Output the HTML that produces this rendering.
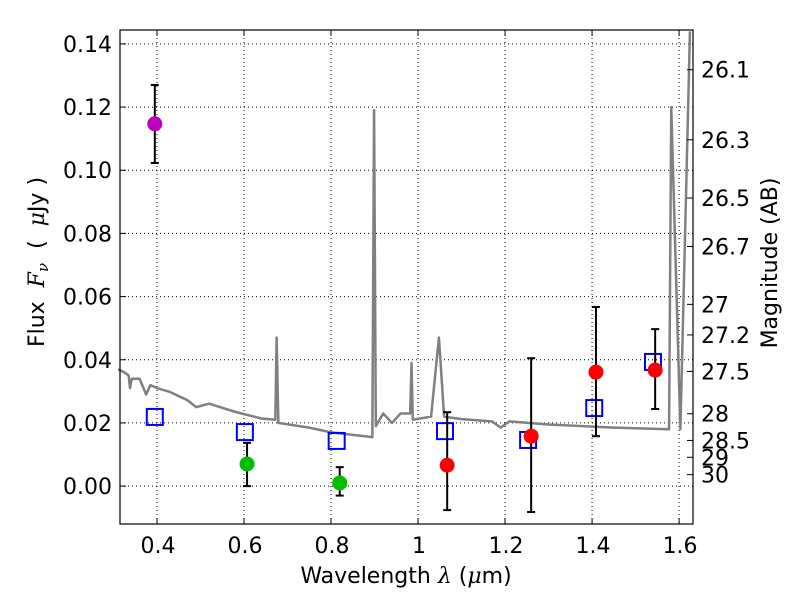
<!DOCTYPE html>
<html><head><meta charset="utf-8"><style>
body{margin:0;background:#fff;}
svg text{font-family:"DejaVu Sans","Liberation Sans",sans-serif;fill:#000;}
</style></head><body>
<svg id="chart" width="800" height="600" xmlns="http://www.w3.org/2000/svg">
<g id="grid"></g>
<g id="spec"></g>
<g id="marks"></g>
<rect x="120" y="30" width="573" height="494" fill="none" stroke="#000" stroke-width="1.2"/>
<g id="axes"></g>
<text x="406" y="583" font-size="22" text-anchor="middle">Wavelength  <tspan font-style="italic" font-family="DejaVu Serif,serif">λ</tspan> (<tspan font-style="italic" font-family="DejaVu Serif,serif">μ</tspan>m)</text>
<text transform="translate(44,262) rotate(-90)" font-size="22" text-anchor="middle" xml:space="preserve">Flux  <tspan font-style="italic" font-family="DejaVu Serif,serif">F<tspan font-size="15" dy="4">ν</tspan></tspan><tspan dy="-4">  (  </tspan><tspan font-style="italic" font-family="DejaVu Serif,serif">μ</tspan>Jy )</text>
<text transform="translate(777,263) rotate(-90)" font-size="22" text-anchor="middle">Magnitude (AB)</text>
</svg>
<script>
const xTicks=[0.4,0.6,0.8,1.0,1.2,1.4,1.6];
const xTickLabels=["0.4","0.6","0.8","1","1.2","1.4","1.6"];
const yTicks=[0,0.02,0.04,0.06,0.08,0.10,0.12,0.14];
const yTickLabels=["0.00","0.02","0.04","0.06","0.08","0.10","0.12","0.14"];
const magTicks=[26.1,26.3,26.5,26.7,27,27.2,27.5,28,28.5,29,30];
const specX=[0.311,0.325,0.335,0.338,0.342,0.36,0.375,0.385,0.40,0.43,0.47,0.49,0.52,0.58,0.64,0.672,0.675,0.679,0.75,0.80,0.895,0.899,0.903,0.92,0.94,0.96,0.982,0.985,0.988,1.03,1.048,1.06,1.1,1.17,1.19,1.21,1.3,1.45,1.577,1.582,1.603,1.625];
const specY=[0.037,0.036,0.035,0.031,0.034,0.034,0.029,0.032,0.031,0.0298,0.0272,0.025,0.0261,0.0235,0.0214,0.021,0.047,0.020,0.0185,0.017,0.0155,0.119,0.019,0.023,0.020,0.023,0.023,0.039,0.021,0.022,0.047,0.022,0.0212,0.0205,0.0185,0.0205,0.0195,0.0185,0.018,0.12,0.018,0.144];
const sqX=[0.395,0.602,0.813,1.062,1.253,1.405,1.54];
const sqY=[0.0219,0.0171,0.0143,0.0174,0.0146,0.0247,0.0393];
const ptX=[0.395,0.607,0.82,1.067,1.26,1.409,1.545];
const ptY=[0.1147,0.007,0.001,0.0066,0.0158,0.0361,0.0367];
const ptLo=[0.1023,0.0,-0.003,-0.0076,-0.0082,0.0158,0.0244];
const ptHi=[0.127,0.0137,0.006,0.0234,0.0405,0.0567,0.0497];
const ptColor=["#bf00bf","#00bf00","#00bf00","#ff0000","#ff0000","#ff0000","#ff0000"];
const NS="http://www.w3.org/2000/svg";
const X0=120,X1=693,Y0=524,Y1=30,xmin=0.315,xmax=1.632,ymin=-0.012,ymax=0.1444;
function sx(v){return X0+(v-xmin)/(xmax-xmin)*(X1-X0);}
function sy(v){return Y0-(v-ymin)/(ymax-ymin)*(Y0-Y1);}
function mk(t,a,p){const e=document.createElementNS(NS,t);for(const k in a)e.setAttribute(k,a[k]);p.appendChild(e);return e;}
const grid=document.getElementById('grid'),axes=document.getElementById('axes');
xTicks.forEach((v,i)=>{
 const g=mk('line',{x1:sx(v),x2:sx(v),y1:Y1,y2:Y0,stroke:'#000','stroke-dasharray':'1,3','stroke-width':1},grid);
 
 mk('line',{x1:sx(v),x2:sx(v),y1:Y0,y2:Y0-6,stroke:'#000'},axes);
 mk('line',{x1:sx(v),x2:sx(v),y1:Y1,y2:Y1+6,stroke:'#000'},axes);
 const t=mk('text',{x:sx(v)+1,y:Y0+29,'font-size':22,'text-anchor':'middle'},axes);t.textContent=xTickLabels[i];
 
});
yTicks.forEach((v,i)=>{
 const g=mk('line',{x1:X0,x2:X1,y1:sy(v),y2:sy(v),stroke:'#000','stroke-dasharray':'1,3','stroke-width':1},grid);
 
 mk('line',{x1:X0,x2:X0+6,y1:sy(v),y2:sy(v),stroke:'#000'},axes);
 const t=mk('text',{x:X0-8,y:sy(v)+8,'font-size':22,'text-anchor':'end'},axes);t.textContent=yTickLabels[i];
 
});
magTicks.forEach(m=>{
 const f=Math.pow(10,(23.9-m)/2.5);const y=sy(f);
 mk('line',{x1:X1,x2:X1-6,y1:y,y2:y,stroke:'#000'},axes);
 const t=mk('text',{x:X1+8,y:y+8,'font-size':22},axes);t.textContent=String(m);
 
});
const spec=document.getElementById('spec');
const sp=mk('polyline',{points:specX.map((v,i)=>sx(v)+','+sy(specY[i])).join(' '),fill:'none',stroke:'#808080','stroke-width':2.5,'stroke-linejoin':'round'},spec);

const marks=document.getElementById('marks');
sqX.forEach((v,i)=>{
 const r=mk('rect',{x:sx(v)-8,y:sy(sqY[i])-8,width:16,height:16,fill:'none',stroke:'#0000ff','stroke-width':2},marks);
 
});
ptX.forEach((v,i)=>{
 const x=sx(v);
 const e=mk('g',{},marks);
 
 mk('line',{x1:x,x2:x,y1:sy(ptLo[i]),y2:sy(ptHi[i]),stroke:'#000','stroke-width':2},e);
 mk('line',{x1:x-4,x2:x+4,y1:sy(ptLo[i]),y2:sy(ptLo[i]),stroke:'#000','stroke-width':2},e);
 mk('line',{x1:x-4,x2:x+4,y1:sy(ptHi[i]),y2:sy(ptHi[i]),stroke:'#000','stroke-width':2},e);
 const c=mk('circle',{cx:x,cy:sy(ptY[i]),r:7.5,fill:ptColor[i]},marks);
 
});
</script>
</body></html>
